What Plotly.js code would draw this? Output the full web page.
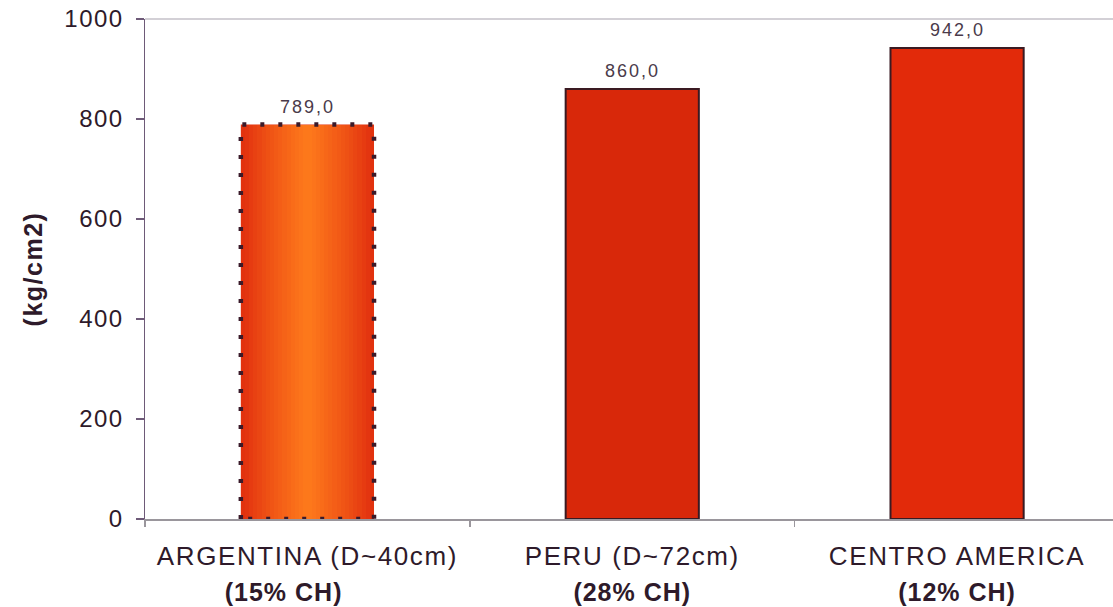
<!DOCTYPE html>
<html><head><meta charset="utf-8">
<script src="https://cdn.plot.ly/plotly-3.0.1.min.js"></script>
<style>
html,body{margin:0;padding:0;background:#fff;}
#chart{width:1113px;height:607px;}
.xtick text{letter-spacing:1.6px;}
.x2tick text{letter-spacing:1px;}
.ytick text{letter-spacing:1.5px;}
.g-ytitle text{letter-spacing:1.5px;}
.annotation-text{letter-spacing:2px;}
</style></head><body><div id="chart"></div>
<script>
// ---- data ----
const categories = ['ARGENTINA (D~40cm)', 'PERU (D~72cm)', 'CENTRO AMERICA'];
const subLabels = ['(15% CH)\u00a0\u00a0\u00a0\u00a0\u00a0\u00a0', '(28% CH)', '(12% CH)'];
const values = [789.0, 860.0, 942.0];
const yTickVals = [0, 200, 400, 600, 800, 1000];
const yTitle = '(kg/cm2)';

// ---- style ----
const FONT = '"Liberation Sans", Arial, sans-serif';
const BAR_W = 0.41;
const barColors = ['#e2320e', '#d8280a', '#e22a0a'];
const lineWidths = [0, 2, 2];
const edgeRGB = [224, 44, 14], centerRGB = [255, 124, 28];

const idx = categories.map((c, i) => i);
const labels = values.map(v => v.toFixed(1).replace('.', ','));

const traces = [];
traces.push({
  type: 'bar', x: idx, y: values, width: BAR_W,
  marker: {color: barColors, line: {color: '#3a1a22', width: lineWidths}},
  hoverinfo: 'none', showlegend: false
});
// gradient layers for the first bar (overlaid narrower bars)
const N = 16;
for (let k = 1; k < N; k++) {
  const r = 1 - k / N;
  const t = Math.pow(1 - r, 0.8);
  const c = edgeRGB.map((e, j) => Math.round(e + (centerRGB[j] - e) * t));
  traces.push({
    type: 'bar', x: [idx[0]], y: [values[0]], width: BAR_W * r,
    marker: {color: 'rgb(' + c.join(',') + ')', line: {width: 0}},
    hoverinfo: 'none', showlegend: false
  });
}
// dotted outline of the first bar
const c0 = idx[0], v0 = values[0];
traces.push({
  type: 'scatter', mode: 'lines', xaxis: 'x2', yaxis: 'y',
  x: [c0 - BAR_W / 2, c0 - BAR_W / 2, c0 + BAR_W / 2, c0 + BAR_W / 2, c0 - BAR_W / 2],
  y: [0, v0, v0, 0, 0],
  line: {color: '#3a1a2a', width: 4.5, dash: '4px,14px'},
  cliponaxis: false, hoverinfo: 'none', showlegend: false
});

const annotations = idx.map(i => ({
  x: i, y: values[i], xref: 'x', yref: 'y', text: labels[i], showarrow: false,
  yanchor: 'bottom', yshift: 6, font: {family: FONT, size: 18, color: '#4a3a4a'}
}));

const xRange = [-0.5, 2.48];
const layout = {
  width: 1113, height: 607,
  margin: {l: 145, r: 0, t: 19, b: 88},
  paper_bgcolor: '#fff', plot_bgcolor: '#fff',
  barmode: 'overlay', bargap: 0,
  font: {family: FONT, color: '#2e1a2a'},
  xaxis: {
    type: 'linear', range: xRange, tickmode: 'array', tickvals: idx, ticktext: categories,
    ticks: '', showgrid: false, zeroline: false,
    showline: true, linecolor: '#9a969c', linewidth: 1.5,
    tickfont: {family: FONT, size: 26, color: '#2e1a2a'},
    ticklabelstandoff: 13,
    minor: {tickmode: 'array', tickvals: [-0.5, 0.5, 1.5], ticks: 'outside', ticklen: 6, tickcolor: '#9a969c', tickwidth: 1.5},
    automargin: false, fixedrange: true
  },
  xaxis2: {
    type: 'linear', overlaying: 'x', anchor: 'y', side: 'bottom', range: xRange,
    tickmode: 'array', tickvals: idx, ticktext: subLabels.map(s => '<b>' + s + '</b>'),
    ticks: '', showgrid: false, zeroline: false, showline: false,
    tickfont: {family: FONT, size: 25, color: '#2e1a2a'},
    ticklabelstandoff: 56, automargin: false, fixedrange: true
  },
  yaxis: {
    range: [0, 1000], tickmode: 'array', tickvals: yTickVals,
    ticks: 'outside', ticklen: 8, tickcolor: '#6e5a78', tickwidth: 1.5,
    showline: true, linecolor: '#6e5a78', linewidth: 1.5,
    showgrid: false, zeroline: false,
    tickfont: {family: FONT, size: 24, color: '#2e1a2a'},
    ticklabelstandoff: 7,
    title: {text: '<b>' + yTitle + '</b>', font: {family: FONT, size: 25, color: '#2e1a2a'}, standoff: 14},
    automargin: false, fixedrange: true
  },
  annotations: annotations,
  shapes: [{type: 'line', xref: 'paper', yref: 'paper', x0: 0, x1: 1, y0: 1, y1: 1,
            line: {color: '#c4c0c8', width: 1.5}}]
};
Plotly.newPlot('chart', traces, layout, {staticPlot: true, displayModeBar: false});
</script></body></html>
